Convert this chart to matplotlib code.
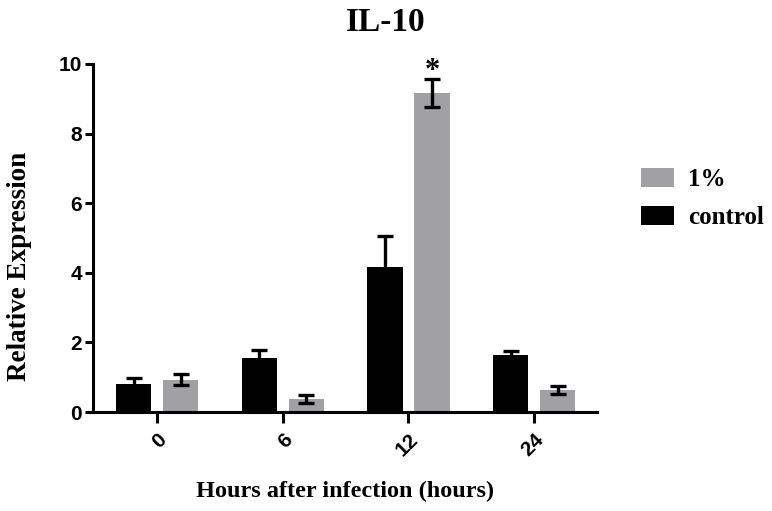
import numpy as np
import matplotlib
matplotlib.use("Agg")
import matplotlib.pyplot as plt
from matplotlib.patches import Patch

# data
hours = ["0", "6", "12", "24"]
control_mean = [0.80, 1.55, 4.18, 1.65]
control_err = [0.19, 0.22, 0.89, 0.11]
pct1_mean = [0.93, 0.38, 9.17, 0.64]
pct1_err = [0.16, 0.11, 0.41, 0.11]
star_labels = ["", "", "*", ""]

gray = "#a1a1a4"
serif = "Liberation Serif"
sans = "Liberation Sans"

fig = plt.figure(figsize=(7.72, 5.11), dpi=100)
ax = fig.add_axes([0.1205, 0.1937, 0.6528, 0.6811])

x = np.arange(len(hours))
w = 0.28
off = 0.187
ekw = dict(elinewidth=2.4, capthick=2.4, ecolor="black")

ax.bar(x - off, control_mean, w, color="black", yerr=control_err,
       capsize=6, error_kw=ekw, zorder=2)
ax.bar(x + off, pct1_mean, w, color=gray, yerr=pct1_err,
       capsize=6, error_kw=ekw, zorder=2)

for i, s in enumerate(star_labels):
    if s:
        ax.text(x[i] + off, pct1_mean[i] + pct1_err[i], s,
                ha="center", va="baseline", fontsize=22, fontweight="bold",
                family=serif, clip_on=False)

ax.set_xlim(-0.51, 3.5)
ax.set_ylim(0, 10)
ax.set_yticks([0, 2, 4, 6, 8, 10])
ax.set_xticks(x)
ax.set_xticklabels(hours, rotation=45, ha="right", va="top",
                   rotation_mode="anchor")

for sp in ["top", "right"]:
    ax.spines[sp].set_visible(False)
for sp in ["left", "bottom"]:
    ax.spines[sp].set_linewidth(2.2)

ax.tick_params(axis="both", width=2.2, length=6, labelsize=15)
ax.tick_params(axis="x", length=8, pad=5)
ax.tick_params(axis="y", pad=2)
for lab in ax.get_xticklabels() + ax.get_yticklabels():
    lab.set_family(sans)
    lab.set_fontweight("bold")

ax.set_ylabel("Relative Expression", family=serif, fontweight="bold",
              fontsize=19.5)
ax.yaxis.set_label_coords(-0.121, 0.417)
ax.set_xlabel("Hours after infection (hours)", family=serif,
              fontweight="bold", fontsize=17.5, labelpad=15)
fig.suptitle("IL-10", family=serif, fontweight="bold", fontsize=24,
             y=0.987)

handles = [Patch(facecolor=gray, label="1%"),
           Patch(facecolor="black", label="control")]
fig.legend(handles=handles, loc="upper left",
           bbox_to_anchor=(641 / 772, 1 - 168 / 511), frameon=False,
           borderpad=0, borderaxespad=0, handlelength=1.3,
           handleheight=0.76, handletextpad=0.6, labelspacing=0.6,
           prop=dict(family=serif, weight="bold", size=18))

fig.savefig("out.png", dpi=100)
